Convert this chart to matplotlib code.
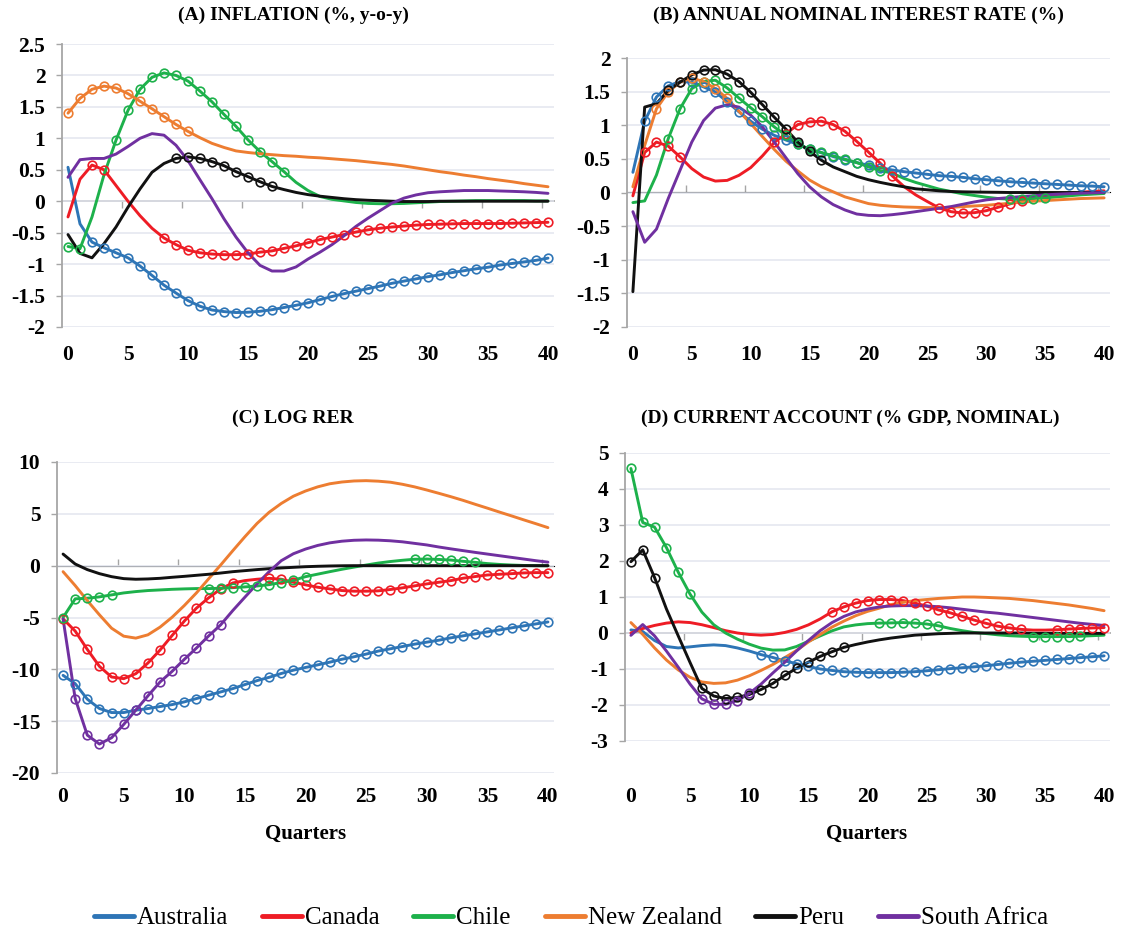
import numpy as np
import matplotlib
matplotlib.use('Agg')
import matplotlib.pyplot as plt
from matplotlib.lines import Line2D

plt.rcParams['axes.unicode_minus'] = False

# ---------------- data ----------------
quarters = list(range(41))
countries = ['Australia', 'Canada', 'Chile', 'New Zealand', 'Peru', 'South Africa']
colors = ['#2E75B6', '#EE1C25', '#1DB14B', '#ED7D31', '#111111', '#7030A0']
xtick_vals = [0, 5, 10, 15, 20, 25, 30, 35, 40]

# (A) Inflation
infl_aus = [0.54, -0.36, -0.65, -0.74, -0.82, -0.90, -1.03, -1.18, -1.335, -1.46, -1.58, -1.67, -1.73, -1.755,
            -1.77, -1.765, -1.75, -1.725, -1.69, -1.655, -1.615, -1.565, -1.515, -1.47, -1.43, -1.39, -1.35,
            -1.305, -1.27, -1.235, -1.20, -1.17, -1.135, -1.105, -1.075, -1.05, -1.015, -0.99, -0.965, -0.94, -0.905]
infl_can = [-0.25, 0.35, 0.575, 0.50, 0.25, 0.0, -0.23, -0.43, -0.585, -0.69, -0.78, -0.82, -0.84, -0.85, -0.85,
            -0.84, -0.81, -0.79, -0.75, -0.71, -0.66, -0.61, -0.57, -0.53, -0.49, -0.455, -0.43, -0.41, -0.395,
            -0.38, -0.37, -0.365, -0.36, -0.355, -0.355, -0.355, -0.355, -0.35, -0.345, -0.34, -0.335]
infl_chl = [-0.72, -0.755, -0.25, 0.42, 0.97, 1.445, 1.78, 1.97, 2.04, 2.00, 1.91, 1.75, 1.58, 1.38, 1.19, 0.975,
            0.79, 0.63, 0.47, 0.30, 0.17, 0.075, 0.03, 0.005, -0.02, -0.035, -0.04, -0.04, -0.035, -0.025, -0.015,
            -0.005, 0.0, 0.005, 0.01, 0.01, 0.01, 0.01, 0.01, 0.005, 0.005]
infl_nzl = [1.40, 1.635, 1.78, 1.83, 1.80, 1.71, 1.59, 1.47, 1.345, 1.22, 1.11, 1.01, 0.92, 0.855, 0.80, 0.775,
            0.755, 0.74, 0.725, 0.715, 0.70, 0.69, 0.675, 0.66, 0.645, 0.625, 0.605, 0.585, 0.56, 0.53, 0.50, 0.47,
            0.445, 0.415, 0.39, 0.36, 0.335, 0.31, 0.28, 0.255, 0.23]
infl_per = [-0.53, -0.83, -0.90, -0.675, -0.41, -0.095, 0.195, 0.46, 0.60, 0.68, 0.705, 0.68, 0.63, 0.565, 0.47,
            0.39, 0.31, 0.235, 0.185, 0.14, 0.105, 0.08, 0.06, 0.04, 0.025, 0.015, 0.008, 0.0, -0.005, -0.005,
            -0.005, 0.0, 0.0, 0.0, 0.0, 0.0, 0.0, 0.0, 0.0, 0.0, 0.0]
infl_zaf = [0.38, 0.66, 0.68, 0.68, 0.75, 0.87, 1.0, 1.075, 1.05, 0.89, 0.645, 0.34, 0.04, -0.28, -0.57, -0.82,
            -1.02, -1.11, -1.11, -1.045, -0.92, -0.81, -0.69, -0.55, -0.40, -0.27, -0.15, -0.03, 0.05, 0.10, 0.135,
            0.15, 0.16, 0.17, 0.17, 0.17, 0.163, 0.157, 0.15, 0.14, 0.125]
infl_sig = [[(2, 40)], [(2, 3), (8, 40)], [(0, 1), (4, 18)], [(0, 10)], [(9, 17)], []]

# (B) Annual nominal interest rate
rate_aus = [0.30, 1.06, 1.42, 1.585, 1.65, 1.64, 1.57, 1.495, 1.35, 1.20, 1.06, 0.94, 0.85, 0.78, 0.715, 0.64,
            0.59, 0.535, 0.485, 0.445, 0.405, 0.37, 0.335, 0.31, 0.29, 0.27, 0.25, 0.24, 0.225, 0.205, 0.19, 0.175,
            0.16, 0.15, 0.14, 0.13, 0.12, 0.11, 0.10, 0.095, 0.085]
rate_can = [-0.05, 0.595, 0.75, 0.69, 0.53, 0.355, 0.23, 0.17, 0.18, 0.255, 0.37, 0.545, 0.745, 0.875, 1.01, 1.05,
            1.06, 1.01, 0.91, 0.76, 0.60, 0.435, 0.25, 0.09, -0.035, -0.135, -0.23, -0.285, -0.305, -0.30, -0.27,
            -0.22, -0.17, -0.12, -0.08, -0.05, -0.03, -0.01, 0.005, 0.015, 0.025]
rate_chl = [-0.15, -0.125, 0.26, 0.80, 1.245, 1.545, 1.65, 1.67, 1.555, 1.405, 1.26, 1.125, 0.975, 0.85, 0.72,
            0.645, 0.595, 0.545, 0.495, 0.445, 0.38, 0.325, 0.29, 0.21, 0.15, 0.10, 0.05, 0.015, -0.02, -0.045,
            -0.07, -0.09, -0.10, -0.10, -0.09, -0.08, -0.065, -0.05, -0.035, -0.025, -0.015]
rate_nzl = [0.085, 0.70, 1.245, 1.495, 1.64, 1.70, 1.65, 1.545, 1.40, 1.21, 1.025, 0.83, 0.64, 0.465, 0.32, 0.185,
            0.085, 0.01, -0.065, -0.115, -0.165, -0.19, -0.205, -0.215, -0.22, -0.225, -0.225, -0.22, -0.21, -0.2,
            -0.19, -0.175, -0.16, -0.145, -0.13, -0.12, -0.11, -0.1, -0.09, -0.085, -0.08]
rate_per = [-1.475, 1.27, 1.32, 1.52, 1.64, 1.75, 1.82, 1.825, 1.76, 1.65, 1.49, 1.305, 1.12, 0.94, 0.75, 0.61,
            0.48, 0.38, 0.31, 0.24, 0.19, 0.15, 0.115, 0.085, 0.055, 0.04, 0.025, 0.015, 0.01, 0.007, 0.005, 0.003,
            0.0, 0.0, 0.0, 0.0, 0.0, 0.0, 0.0, 0.0, 0.0]
rate_zaf = [-0.285, -0.74, -0.545, -0.09, 0.33, 0.75, 1.07, 1.255, 1.305, 1.27, 1.15, 0.975, 0.75, 0.515, 0.28,
            0.085, -0.065, -0.18, -0.26, -0.32, -0.34, -0.345, -0.33, -0.31, -0.285, -0.26, -0.235, -0.21, -0.175,
            -0.14, -0.11, -0.09, -0.075, -0.06, -0.048, -0.035, -0.025, -0.017, -0.01, -0.005, 0.0]
rate_sig = [[(1, 40)], [(1, 4), (12, 22), (26, 33)], [(3, 21), (32, 35)], [(2, 8)], [(3, 16)], []]

# (C) Log RER
rer_aus = [-10.58, -11.38, -12.88, -13.78, -14.17, -14.17, -13.94, -13.78, -13.59, -13.4, -13.14, -12.82, -12.5,
           -12.18, -11.86, -11.47, -11.09, -10.77, -10.4, -10.08, -9.82, -9.57, -9.31, -9.03, -8.79, -8.53, -8.24,
           -8.02, -7.8, -7.57, -7.38, -7.19, -6.96, -6.77, -6.58, -6.39, -6.2, -6.0, -5.81, -5.62, -5.43]
rer_can = [-5.13, -6.31, -8.08, -9.71, -10.74, -10.9, -10.42, -9.39, -8.14, -6.73, -5.35, -4.1, -3.11, -2.24,
           -1.67, -1.44, -1.31, -1.22, -1.31, -1.6, -1.85, -2.08, -2.24, -2.4, -2.46, -2.46, -2.43, -2.3, -2.14,
           -1.95, -1.76, -1.6, -1.44, -1.21, -1.05, -0.9, -0.83, -0.77, -0.7, -0.67, -0.67]
rer_chl = [-5.0, -3.2, -3.14, -3.01, -2.82, -2.63, -2.5, -2.4, -2.34, -2.28, -2.24, -2.21, -2.21, -2.18, -2.12,
           -2.05, -1.96, -1.83, -1.63, -1.41, -1.06, -0.82, -0.58, -0.35, -0.14, 0.06, 0.25, 0.4, 0.52, 0.62, 0.64,
           0.6, 0.54, 0.42, 0.32, 0.2, 0.12, 0.06, 0.02, 0.0, -0.01]
rer_nzl = [-0.58, -1.92, -3.37, -4.74, -6.03, -6.8, -6.99, -6.67, -5.93, -4.97, -3.85, -2.63, -1.28, 0.06, 1.44,
           2.79, 4.07, 5.15, 6.0, 6.7, 7.2, 7.6, 7.9, 8.07, 8.17, 8.2, 8.15, 8.05, 7.85, 7.6, 7.3, 6.98, 6.65, 6.3,
           5.92, 5.55, 5.17, 4.8, 4.42, 4.05, 3.67]
rer_per = [1.12, 0.16, -0.38, -0.77, -1.06, -1.25, -1.31, -1.28, -1.22, -1.12, -1.03, -0.93, -0.83, -0.71, -0.58,
           -0.48, -0.38, -0.29, -0.22, -0.16, -0.1, -0.06, -0.03, -0.01, 0.0, 0.0, 0.0, 0.0, 0.0, 0.0, 0.0, 0.0,
           0.0, 0.0, 0.0, 0.0, 0.0, 0.0, 0.0, 0.0, 0.0]
rer_zaf = [-5.13, -12.82, -16.35, -17.21, -16.6, -15.32, -13.94, -12.56, -11.22, -10.19, -9.04, -7.95, -6.79,
           -5.71, -4.33, -3.04, -1.76, -0.58, 0.48, 1.15, 1.6, 1.95, 2.2, 2.36, 2.45, 2.48, 2.46, 2.4, 2.3, 2.15,
           2.0, 1.8, 1.62, 1.45, 1.28, 1.12, 0.96, 0.8, 0.64, 0.48, 0.34]
rer_sig = [[(0, 40)], [(0, 14), (17, 40)], [(0, 4), (12, 20), (29, 34)], [], [], [(1, 13)]]

# (D) Current account
ca_aus = [0.085, 0.04, -0.21, -0.375, -0.415, -0.385, -0.35, -0.33, -0.35, -0.415, -0.5, -0.6, -0.68, -0.775,
          -0.85, -0.93, -1.0, -1.04, -1.075, -1.09, -1.1, -1.1, -1.1, -1.09, -1.075, -1.05, -1.02, -0.99, -0.965,
          -0.94, -0.91, -0.875, -0.84, -0.81, -0.785, -0.76, -0.735, -0.71, -0.685, -0.66, -0.635]
ca_can = [0.0, 0.125, 0.21, 0.275, 0.31, 0.29, 0.23, 0.15, 0.065, 0.0, -0.04, -0.06, -0.04, 0.015, 0.1, 0.225,
          0.39, 0.59, 0.725, 0.83, 0.9, 0.93, 0.93, 0.9, 0.83, 0.75, 0.64, 0.56, 0.46, 0.36, 0.27, 0.19, 0.14, 0.1,
          0.08, 0.08, 0.09, 0.11, 0.125, 0.14, 0.15]
ca_chl = [4.57, 3.07, 2.94, 2.375, 1.69, 1.08, 0.58, 0.23, 0.0, -0.17, -0.31, -0.42, -0.475, -0.47, -0.375, -0.23,
          -0.08, 0.06, 0.17, 0.225, 0.26, 0.275, 0.28, 0.29, 0.275, 0.25, 0.2, 0.125, 0.065, 0.015, -0.015, -0.05,
          -0.075, -0.09, -0.1, -0.1, -0.1, -0.1, -0.09, -0.075, -0.06]
ca_nzl = [0.29, -0.04, -0.415, -0.75, -1.025, -1.23, -1.36, -1.4, -1.385, -1.31, -1.19, -1.04, -0.875, -0.685,
          -0.485, -0.25, -0.04, 0.165, 0.33, 0.48, 0.6, 0.69, 0.79, 0.85, 0.9, 0.93, 0.96, 0.98, 1.0, 1.0, 0.99,
          0.975, 0.96, 0.93, 0.9, 0.86, 0.82, 0.78, 0.73, 0.68, 0.62]
ca_per = [1.98, 2.31, 1.54, 0.67, -0.08, -0.82, -1.54, -1.75, -1.82, -1.79, -1.71, -1.57, -1.4, -1.18, -0.98,
          -0.81, -0.65, -0.52, -0.4, -0.32, -0.25, -0.19, -0.14, -0.1, -0.06, -0.04, -0.02, -0.01, 0.0, 0.0, 0.0,
          0.0, 0.0, 0.0, -0.01, -0.01, -0.01, -0.01, -0.01, -0.01, -0.01]
ca_zaf = [-0.065, 0.235, -0.08, -0.5, -0.95, -1.42, -1.83, -1.98, -1.98, -1.875, -1.68, -1.42, -1.11, -0.815,
          -0.5, -0.21, 0.065, 0.29, 0.46, 0.585, 0.665, 0.725, 0.75, 0.76, 0.76, 0.75, 0.73, 0.7, 0.66, 0.62, 0.58,
          0.55, 0.51, 0.47, 0.43, 0.39, 0.35, 0.31, 0.27, 0.24, 0.21]
ca_sig = [[(11, 40)], [(17, 33), (36, 40)], [(0, 5), (21, 26), (34, 38)], [], [(0, 2), (6, 18)], [(6, 10)]]

# ---------------- layout ----------------
W, H = 1122, 933
fig = plt.figure(figsize=(W / 100, H / 100), dpi=100)
SERIF = ['Liberation Serif', 'DejaVu Serif']
GRID = '#E3E6EF'
AXC = '#A6A6A6'


def rect(l, t, r, b):
    return [l / W, 1 - b / H, (r - l) / W, (b - t) / H]


panels = [
    dict(series=[infl_aus, infl_can, infl_chl, infl_nzl, infl_per, infl_zaf], sig=infl_sig,
         box=(62, 44, 554, 327), ylim=(-2, 2.5), step=0.5, title='(A) INFLATION (%, y-o-y)',
         txy=(293, 15), xpad=13, xlabel=False),
    dict(series=[rate_aus, rate_can, rate_chl, rate_nzl, rate_per, rate_zaf], sig=rate_sig,
         box=(627, 58, 1110, 327), ylim=(-2, 2), step=0.5, title='(B) ANNUAL NOMINAL INTEREST RATE (%)',
         txy=(858, 15), xpad=13, xlabel=False),
    dict(series=[rer_aus, rer_can, rer_chl, rer_nzl, rer_per, rer_zaf], sig=rer_sig,
         box=(57, 462, 554, 773), ylim=(-20, 10), step=5, title='(C) LOG RER',
         txy=(293, 418), xpad=10, xlabel=True, lxy=(306, 834)),
    dict(series=[ca_aus, ca_can, ca_chl, ca_nzl, ca_per, ca_zaf], sig=ca_sig,
         box=(625, 453, 1110, 741), ylim=(-3, 5), step=1, title='(D) CURRENT ACCOUNT (% GDP, NOMINAL)',
         txy=(850, 418), xpad=33, xlabel=True, lxy=(867, 834)),
]

for p in panels:
    ax = fig.add_axes(rect(*p['box']))
    y0, y1 = p['ylim']
    ax.set_xlim(-0.5, 40.5)
    ax.set_ylim(y0, y1)
    yt = np.arange(y0, y1 + p['step'] / 2, p['step'])
    ax.set_yticks(yt)
    ax.set_yticklabels([f'{v:g}' for v in yt], fontfamily=SERIF, fontweight='bold', fontsize=15.5)
    ax.set_xticks(xtick_vals)
    ax.set_xticklabels([str(v) for v in xtick_vals], fontfamily=SERIF, fontweight='bold', fontsize=15.5)
    ax.tick_params(axis='x', length=0, pad=p['xpad'])
    ax.tick_params(axis='y', length=4, width=1, color=AXC, pad=8, direction='out')
    ax.grid(axis='y', color=GRID, lw=1.1)
    ax.set_axisbelow(True)
    for s in ['top', 'right', 'bottom']:
        ax.spines[s].set_visible(False)
    ax.spines['left'].set_color(AXC)
    ax.spines['left'].set_linewidth(1.3)

    # horizontal axis line at zero with tick marks between categories
    frac = (0 - y0) / (y1 - y0)
    sec = ax.secondary_xaxis(frac)
    sec.set_xticks([4.5 + 5 * k for k in range(8)])
    sec.set_xticklabels([])
    sec.tick_params(length=5, width=1, color=AXC, direction='out')
    sec.spines['bottom'].set_color(AXC)
    sec.spines['bottom'].set_linewidth(1.3)

    for vals, sig, col in zip(p['series'], p['sig'], colors):
        ax.plot(quarters, vals, color=col, lw=2.1, solid_capstyle='round', zorder=3)
        idx = [i for a, b in sig for i in range(a, b + 1)]
        if idx:
            ax.plot([quarters[i] for i in idx], [vals[i] for i in idx], ls='none', marker='o',
                    ms=6.2, mfc='none', mec=col, mew=1.2, zorder=4)

    fig.text(p['txy'][0] / W, 1 - p['txy'][1] / H, p['title'], ha='center', va='center',
             fontfamily=SERIF, fontweight='bold', fontsize=14)
    if p['xlabel']:
        fig.text(p['lxy'][0] / W, 1 - p['lxy'][1] / H, 'Quarters', ha='center', va='center',
                 fontfamily=SERIF, fontweight='bold', fontsize=15)

handles = [Line2D([0], [0], color=c, lw=3.5, solid_capstyle='round') for c in colors]
fig.legend(handles, countries, loc='center', bbox_to_anchor=(571 / W, 1 - 918 / H), ncol=6, frameon=False,
           prop={'family': SERIF, 'size': 18},
           handlelength=1.6, handletextpad=0.12, columnspacing=1.35, borderaxespad=0)

fig.savefig('out.png', dpi=100)
